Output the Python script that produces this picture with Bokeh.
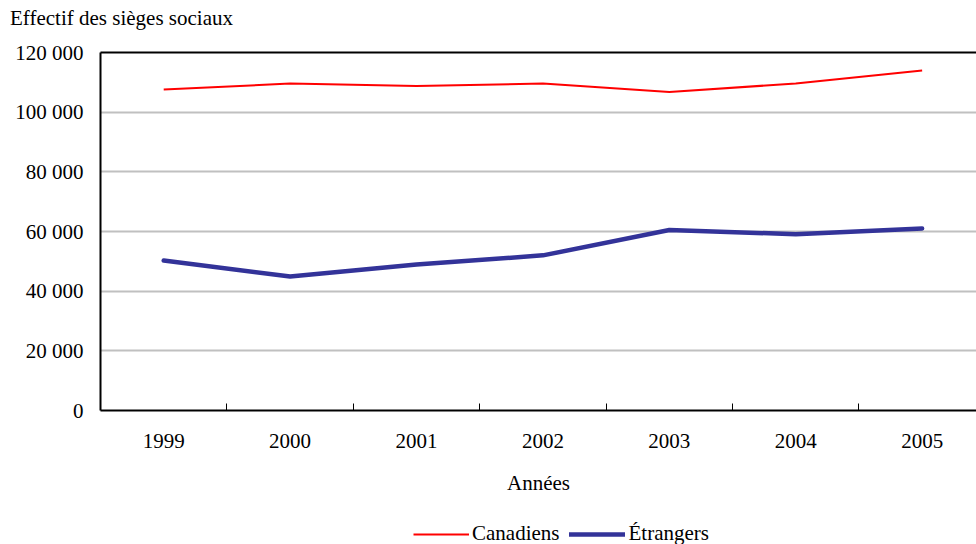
from bokeh.plotting import figure
from bokeh.layouts import column
from bokeh.models import Range1d, LinearAxis, FixedTicker, Legend, LegendItem, Div
from bokeh.embed import file_html
from bokeh.resources import INLINE

years = ["1999", "2000", "2001", "2002", "2003", "2004", "2005"]
canadiens = [107600, 109600, 108800, 109600, 106800, 109600, 114000]
etrangers = [50300, 44900, 48900, 52000, 60500, 59100, 61000]
y_ticks = [0, 20000, 40000, 60000, 80000, 100000, 120000]
series_names = ["Canadiens", "Étrangers"]
title_text = "Effectif des sièges sociaux"
x_title = "Années"

FONT = "Liberation Serif"
FS = "21px"
RED = "#ff0000"
BLUE = "#333399"

xs = list(range(len(years)))

# title strip
head = Div(text=('<div style="font-family: \'Liberation Serif\'; font-size: 21px; '
                 'line-height: 36px; padding-left: 10px; color: black; '
                 'white-space: nowrap; margin: 0;">' + title_text + '</div>'),
           width=976, height=36, margin=0)

p = figure(width=976, height=464, output_backend="svg", toolbar_location=None,
           x_range=Range1d(-0.5, 6.43), y_range=Range1d(0, 120000),
           min_border_left=100, min_border_right=0, min_border_top=16,
           min_border_bottom=90, title_location=None)
p.outline_line_color = None
p.background_fill_color = "white"

# x axis
xa = p.xaxis[0]
xa.ticker = FixedTicker(ticks=xs, minor_ticks=[i + 0.5 for i in xs])
xa.major_label_overrides = {i: y for i, y in zip(xs, years)}
xa.major_tick_line_color = None
xa.major_tick_in = 0
xa.major_tick_out = 0
xa.minor_tick_in = 7
xa.minor_tick_out = 0
xa.minor_tick_line_color = "black"
xa.minor_tick_line_width = 1
xa.axis_line_color = "black"
xa.axis_line_width = 2
xa.major_label_text_font = FONT
xa.major_label_text_font_size = FS
xa.major_label_text_color = "black"
xa.major_label_standoff = 23
xa.axis_label = x_title
xa.axis_label_text_font = FONT
xa.axis_label_text_font_size = FS
xa.axis_label_text_font_style = "normal"
xa.axis_label_text_color = "black"
xa.axis_label_standoff = 20

# y axis
ya = p.yaxis[0]
ya.ticker = FixedTicker(ticks=y_ticks)
ya.major_label_overrides = {v: f"{v:,}".replace(",", " ") for v in y_ticks}
ya.major_tick_in = 0
ya.major_tick_out = 0
ya.minor_tick_line_color = None
ya.axis_line_color = "black"
ya.axis_line_width = 2
ya.major_label_text_font = FONT
ya.major_label_text_font_size = FS
ya.major_label_text_color = "black"
ya.major_label_standoff = 17

# top border line
top = LinearAxis(ticker=FixedTicker(ticks=[]), major_label_text_font_size="0px",
                 major_label_standoff=0, major_tick_in=0, major_tick_out=0,
                 minor_tick_out=0, major_tick_line_color=None,
                 minor_tick_line_color=None,
                 axis_line_color="black", axis_line_width=2)
p.add_layout(top, "above")

# grid
p.xgrid.visible = False
p.ygrid.ticker = FixedTicker(ticks=y_ticks[1:-1])
p.ygrid.grid_line_color = "#c0c0c0"
p.ygrid.grid_line_width = 2

p.line(xs, canadiens, line_color=RED, line_width=2)
p.line(xs, etrangers, line_color=BLUE, line_width=4.5, line_cap="round")

# legend strip below the chart
p2 = figure(width=976, height=44, output_backend="svg", toolbar_location=None,
            x_range=Range1d(0, 976), y_range=Range1d(0, 44),
            x_axis_location=None, y_axis_location=None, title_location=None,
            min_border=0, min_border_left=0, min_border_right=0,
            min_border_top=0, min_border_bottom=0)
p2.outline_line_color = None
p2.xgrid.visible = False
p2.ygrid.visible = False
l1 = p2.line([-100, -90], [-100, -100], line_color=RED, line_width=2)
l2 = p2.line([-100, -90], [-100, -100], line_color=BLUE, line_width=4.5,
             line_cap="round")

legend = Legend(items=[LegendItem(label=series_names[0], renderers=[l1]),
                       LegendItem(label=series_names[1], renderers=[l2])],
                orientation="horizontal", location=(313, -2),
                padding=0, margin=0, border_line_color=None,
                background_fill_alpha=0, glyph_width=56, label_standoff=3,
                spacing=10, label_text_font=FONT, label_text_font_size=FS,
                label_text_color="black")
p2.add_layout(legend, "center")

layout = column(head, p, p2, spacing=0)
open("out.html", "w").write(file_html(layout, INLINE))
